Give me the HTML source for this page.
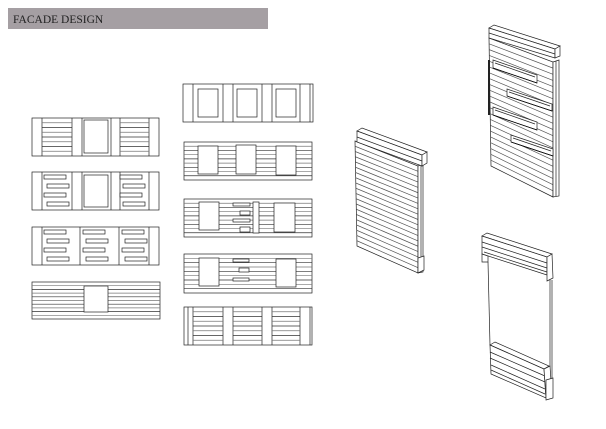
<!DOCTYPE html>
<html><head><meta charset="utf-8"><style>
html,body{margin:0;padding:0;background:#fff;width:606px;height:429px;overflow:hidden}
svg{display:block}
</style></head><body>
<svg id="s" width="606" height="429" viewBox="0 0 606 429" xmlns="http://www.w3.org/2000/svg">
<rect x="8" y="8" width="260" height="21" fill="#a59fa3"/>
<text x="13" y="23" font-family="Liberation Serif, serif" font-size="11.5" fill="#222">FACADE DESIGN</text>
<g id="g" fill="none" stroke="#222" stroke-width="0.7"></g>
</svg>
<script>
var g=document.getElementById('g'),h='';
function R(x,y,w,hh,sw){h+='<rect x="'+x+'" y="'+y+'" width="'+w+'" height="'+hh+'" fill="#fff"'+(sw?' stroke-width="'+sw+'"':'')+'/>';}
function L(a,b,c,d,c2){h+='<line x1="'+a+'" y1="'+b+'" x2="'+c+'" y2="'+d+'"'+(c2?' stroke="'+c2+'"':'')+'/>';}
function P(pts,f){h+='<polygon points="'+pts+'" fill="'+(f||'#fff')+'"/>';}
function hl(x1,x2,y1,y2,n){for(var i=1;i<n;i++){var y=y1+(y2-y1)*i/n;L(x1,y,x2,y,i%2?'#777':'#333');}}
R(32,118,127,38);[42,72,82,111,120,149].forEach(function(x){L(x,118,x,156)});
hl(42,72,118,156,8);hl(120,149,118,156,8);R(84,120,24,33);
R(32,172,127,38);[42,72,82,111,120,149].forEach(function(x){L(x,172,x,210)});
R(84,175,24,32);
function slots(x,y){R(x+2,y+3,22,4);R(x+5,y+12,22,4);R(x+2,y+21,22,4);R(x+5,y+30,22,4);}
slots(42,172);slots(118,172);
R(32,227,127,38);[42,80,119,149].forEach(function(x){L(x,227,x,265)});
slots(42,227);slots(81,227);slots(120,227);
R(32,282,128,37);hl(32,160,282,319,10);R(84,286,24,26);
R(183,84,130,38);[193,223,233,262,272,300,310].forEach(function(x){L(x,84,x,122)});
R(198,89,20,28);R(237,89,20,28);R(276,89,20,28);
R(184,142,128,38);hl(184,312,142,180,9);R(198,146,20,28);R(236,145,20,29);R(276,146,20,29);
R(184,199,128,38);hl(184,312,199,237,9);R(199,202,20,28);R(274,203,21,29);R(253,202,6,31);
R(233,203,17,3);R(240,211,10,4);R(233,219,17,3);R(240,227,10,5);
R(184,254,128,39);hl(184,312,254,293,9);R(199,258,20,28);R(276,259,20,28);
R(233,259,16,3);R(239,268,10,4);R(233,278,16,3);
R(184,307,128,38);[188,193,223,233,262,272,300,310].forEach(function(x){L(x,307,x,345)});
hl(193,223,307,345,8);hl(233,262,307,345,8);hl(272,300,307,345,8);
P('355,141 418,166 418,273 357,246');
for(var i=1;i<20;i++){var t=i/20;L(355+2*t,141+105*t,418,166+107*t,'#555');}
P('418,166 423,164 423,272 418,273');L(421,165,421,272);
P('357,131 362,128 427,152 422,155');P('357,131 422,155 422,166 357,142');L(357,137,422,161);
P('422,155 427,152 427,163 422,166');
P('418,258 424,256 424,270 418,273');
P('489,38 553,62 553,197 491,166');
for(i=1;i<22;i++){t=i/22;L(489+2*t,38+128*t,553,62+135*t,'#555');}
P('553,62 559,60 559,196 553,197');L(556,61,556,196);
P('489,28 494,25 560,46 555,49');P('489,28 555,49 555,58 489,38');L(489,33,555,54);
P('555,49 560,46 560,56 555,58');
P('493,60 537,75 537,83 493,68');L(495,63,535,77);L(493,68,537,83,'#000');
P('507,89 552,104 552,111 507,96');L(509,92,550,106);L(507,96,552,111,'#000');
P('493,107 537,122 537,130 493,115');L(495,110,535,124);L(493,115,537,130,'#000');
P('511,135 553,149 553,156 511,142');L(513,138,551,151);L(511,142,553,156,'#000');
h+='<line x1="489" y1="60" x2="489" y2="115" stroke-width="2"/>';
P('482,236 487,233 552,254 547,257');P('482,236 547,257 547,275 482,254');
L(482,242,547,263);L(482,247,547,268);L(484,252,547,272);
P('547,257 552,254 553,278 547,281');
P('482,254 488,256 488,262 482,262');
L(488,262,490,345);L(552,280,552,396);L(550,280,550,396);
P('490,345 495,342 549,366 544,369');P('490,345 544,369 546,398 491,374');
L(490,352,545,376);L(490,358,545,382);L(491,365,545,389);L(491,370,545,394);
P('544,369 550,366 552,396 546,398');P('546,380 553,378 553,398 546,400');
g.innerHTML=h;
</script>
</body></html>
